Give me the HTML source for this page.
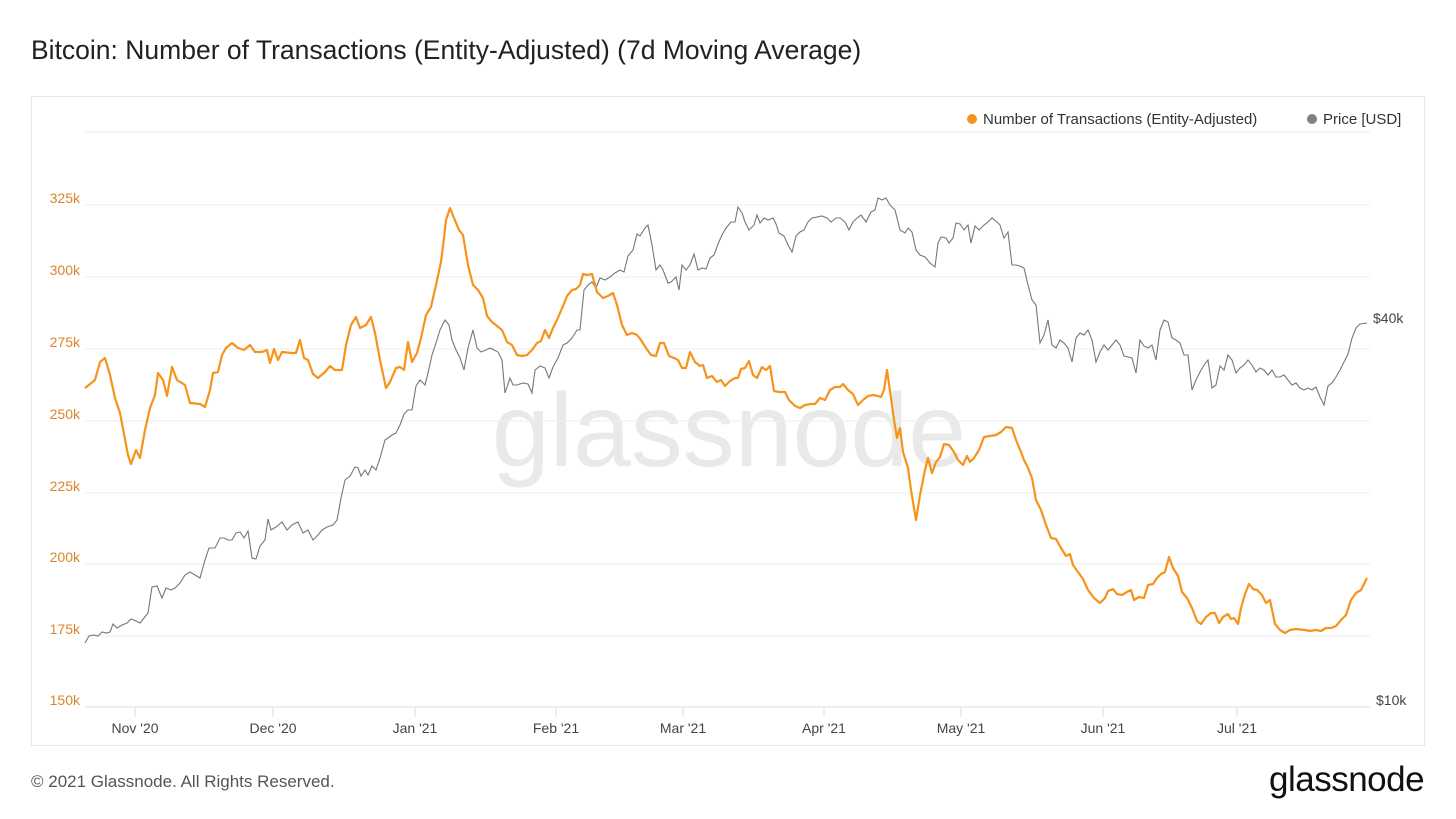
<!DOCTYPE html>
<html><head><meta charset="utf-8"><style>
body{margin:0;width:1456px;height:819px;background:#fff;font-family:"Liberation Sans",sans-serif;overflow:hidden;position:relative}
.t{position:absolute;white-space:nowrap}
</style></head><body>
<div class="t" style="left:31px;top:35px;font-size:26.5px;color:#222">Bitcoin: Number of Transactions (Entity-Adjusted) (7d Moving Average)</div>
<div style="position:absolute;left:31px;top:96px;width:1392px;height:648px;border:1px solid #e6e6e6"></div>
<svg width="1456" height="819" style="position:absolute;left:0;top:0">
<text x="729" y="466" font-size="104" fill="#e9e9e9" text-anchor="middle" font-family="Liberation Sans">glassnode</text>
<g stroke="#eeeeee" stroke-width="1">
<line x1="85" x2="1370" y1="132" y2="132"/><line x1="85" x2="1370" y1="205" y2="205"/><line x1="85" x2="1370" y1="277" y2="277"/><line x1="85" x2="1370" y1="349" y2="349"/><line x1="85" x2="1370" y1="421" y2="421"/><line x1="85" x2="1370" y1="493" y2="493"/><line x1="85" x2="1370" y1="564" y2="564"/><line x1="85" x2="1370" y1="636" y2="636"/>
</g>
<line x1="85" x2="1370" y1="707" y2="707" stroke="#dddddd"/>
<g stroke="#dddddd"><line x1="135" x2="135" y1="707" y2="717"/><line x1="273" x2="273" y1="707" y2="717"/><line x1="415" x2="415" y1="707" y2="717"/><line x1="556" x2="556" y1="707" y2="717"/><line x1="683" x2="683" y1="707" y2="717"/><line x1="824" x2="824" y1="707" y2="717"/><line x1="961" x2="961" y1="707" y2="717"/><line x1="1103" x2="1103" y1="707" y2="717"/><line x1="1237" x2="1237" y1="707" y2="717"/></g>
<g font-size="14" fill="#444" text-anchor="middle"><text x="135" y="733">Nov '20</text><text x="273" y="733">Dec '20</text><text x="415" y="733">Jan '21</text><text x="556" y="733">Feb '21</text><text x="683" y="733">Mar '21</text><text x="824" y="733">Apr '21</text><text x="961" y="733">May '21</text><text x="1103" y="733">Jun '21</text><text x="1237" y="733">Jul '21</text></g>
<g font-size="14" fill="#d9862a" text-anchor="end"><text x="80" y="203">325k</text><text x="80" y="275">300k</text><text x="80" y="347">275k</text><text x="80" y="419">250k</text><text x="80" y="491">225k</text><text x="80" y="562">200k</text><text x="80" y="634">175k</text><text x="80" y="705">150k</text></g>
<g font-size="14" fill="#444"><text x="1373" y="323">$40k</text><text x="1376" y="705">$10k</text></g>
<circle cx="972" cy="119" r="5" fill="#f7931a"/><text x="983" y="124" font-size="15" fill="#333">Number of Transactions (Entity-Adjusted)</text>
<circle cx="1312" cy="119" r="5" fill="#808080"/><text x="1323" y="124" font-size="15" fill="#333">Price [USD]</text>
<polyline fill="none" stroke="#777" stroke-width="1.1" points="85,643 89,636 94,635 98,636 102,632 106,633 110,632 113,624 117,628 122,625 127,623 131,619 136,621 140,623 144,618 148,613 152,587 157,586 162,598 166,588 171,590 175,588 180,583 185,575 190,572 195,575 200,578 205,560 209,548 215,548 220,538 224,538 228,540 232,540 236,533 240,532 244,538 248,531 252,558 256,559 260,546 265,540 268,519 271,530 276,527 282,522 287,530 292,525 298,522 303,533 308,530 313,540 318,535 322,530 327,527 333,525 337,520 341,498 345,480 350,476 355,467 358,468 361,476 365,470 368,475 372,466 376,470 380,458 385,440 388,438 392,435 396,433 400,425 404,414 408,410 412,410 416,386 420,380 425,385 428,373 432,355 436,343 440,330 445,320 449,325 452,340 456,350 460,358 464,370 468,348 473,330 477,348 481,352 486,350 490,348 494,350 498,352 502,360 505,393 510,378 513,385 517,385 523,383 528,384 532,393 535,370 540,366 545,368 549,378 553,367 558,358 563,345 567,343 572,338 577,330 580,330 584,290 588,285 592,282 596,288 600,278 605,280 610,277 615,273 620,270 624,272 628,256 633,250 637,234 640,236 645,228 648,225 652,245 656,270 660,265 663,270 668,283 671,282 676,277 679,290 682,265 686,270 690,265 694,254 698,270 702,268 706,269 710,258 714,255 718,244 722,235 726,228 731,222 735,222 738,207 742,213 745,222 749,230 754,225 757,215 760,223 764,218 768,220 773,218 776,224 779,233 784,236 788,245 792,252 796,236 800,232 804,230 808,222 812,218 817,217 822,216 827,218 831,222 836,218 840,218 845,222 849,230 853,222 857,218 861,215 866,222 871,212 875,210 878,198 882,200 886,198 890,205 895,210 900,230 905,233 908,228 912,232 916,250 920,255 925,257 930,263 935,267 938,243 941,237 946,238 949,243 953,238 956,223 960,224 964,230 968,225 971,243 975,226 979,230 984,225 988,222 992,218 997,222 1000,225 1004,238 1008,232 1012,265 1016,265 1020,266 1024,268 1028,285 1032,300 1036,305 1040,343 1044,335 1048,320 1052,345 1056,348 1060,340 1064,343 1068,348 1072,362 1076,338 1080,333 1084,335 1088,330 1092,340 1096,362 1100,352 1104,345 1108,350 1112,345 1116,340 1120,345 1124,356 1128,357 1132,358 1136,373 1140,340 1144,346 1148,348 1152,345 1156,360 1160,330 1164,320 1168,322 1172,338 1176,340 1180,343 1184,355 1188,355 1192,390 1196,380 1200,372 1204,365 1208,360 1212,388 1216,385 1220,366 1224,370 1228,355 1232,360 1236,373 1240,368 1244,365 1248,360 1252,365 1256,372 1260,368 1264,370 1268,375 1272,370 1276,377 1280,377 1284,375 1288,380 1292,385 1296,383 1300,388 1304,390 1308,388 1312,390 1316,387 1320,397 1324,405 1328,386 1332,383 1336,377 1340,370 1344,362 1348,354 1352,338 1356,328 1360,324 1367,323"/>
<polyline fill="none" stroke="#f7931a" stroke-width="2.2" stroke-linejoin="round" points="85,388 95,380 100,362 105,358 110,375 115,398 120,413 128,455 131,464 136,450 140,458 145,430 150,408 155,395 158,373 163,380 167,396 172,367 177,380 185,385 190,403 200,404 205,407 210,390 213,373 218,372 222,355 226,348 232,343 238,348 244,350 250,345 255,352 262,352 267,350 270,363 274,349 278,360 282,352 292,353 296,353 300,340 304,358 308,360 313,374 318,378 325,372 330,366 335,370 342,370 346,345 351,325 356,317 360,328 366,325 371,317 375,333 380,360 386,388 390,382 396,368 400,367 404,370 408,342 412,362 417,353 421,338 426,315 431,307 436,285 441,262 444,238 446,220 450,208 454,218 459,230 463,235 468,265 473,285 478,290 483,298 487,316 492,322 497,326 502,330 507,342 512,345 517,355 522,356 527,355 532,350 537,343 541,341 545,330 549,338 553,328 557,320 563,306 567,296 572,290 576,289 580,285 583,274 587,275 592,274 597,292 603,298 608,296 613,293 617,305 622,325 627,335 632,333 637,335 641,340 646,348 651,355 656,356 660,343 664,343 669,356 674,358 678,360 682,368 686,368 690,352 695,362 700,366 703,365 707,378 712,376 717,382 721,380 725,386 730,381 735,378 738,378 741,369 745,368 749,361 753,375 757,378 762,367 766,370 770,366 774,391 779,392 785,392 789,400 795,406 800,408 805,405 811,404 815,404 820,398 825,400 830,390 835,387 840,387 843,384 848,390 853,394 858,405 863,400 868,396 873,395 878,396 881,397 884,390 887,370 891,398 894,420 897,438 900,428 903,452 908,468 911,490 916,520 920,495 925,470 928,458 932,473 936,462 940,457 944,444 949,445 954,452 958,460 963,465 967,456 970,462 974,458 979,450 984,437 990,436 996,435 1001,432 1006,427 1012,428 1016,440 1021,452 1024,460 1028,468 1032,478 1036,500 1041,510 1046,525 1051,538 1056,539 1061,548 1066,556 1070,554 1073,565 1078,572 1083,579 1088,590 1094,598 1100,603 1105,598 1108,591 1113,589 1117,594 1122,595 1127,592 1131,590 1134,600 1139,597 1144,598 1148,585 1153,584 1157,578 1161,574 1165,572 1169,557 1173,568 1178,576 1182,592 1187,598 1192,608 1197,621 1201,624 1206,617 1211,613 1215,613 1219,623 1223,617 1228,614 1231,619 1234,618 1238,624 1241,608 1245,594 1249,584 1253,589 1257,590 1262,595 1266,603 1270,600 1275,624 1280,630 1285,633 1290,630 1296,629 1305,630 1310,631 1316,630 1321,631 1326,628 1331,628 1336,626 1341,620 1346,615 1351,600 1356,593 1361,590 1367,578"/>
</svg>
<div class="t" style="left:31px;top:772px;font-size:17px;color:#555">© 2021 Glassnode. All Rights Reserved.</div>
<div class="t" style="left:1269px;top:760px;font-size:35px;color:#111;letter-spacing:-0.5px">glassnode</div>
</body></html>
